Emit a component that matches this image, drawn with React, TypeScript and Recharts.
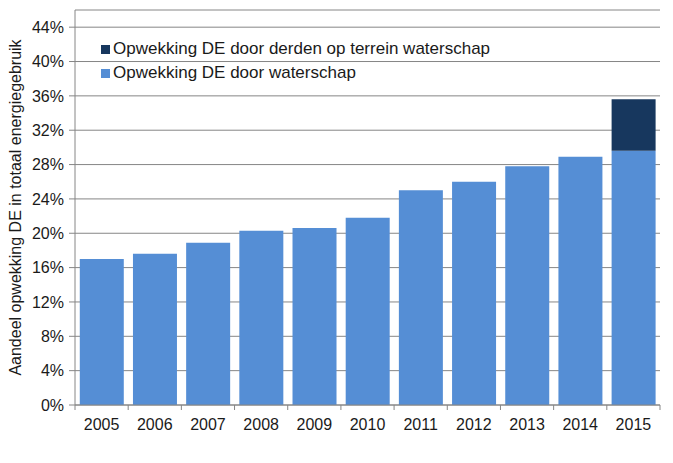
import { BarChart, Bar, XAxis, YAxis, CartesianGrid } from "recharts";

const years = ["2005", "2006", "2007", "2008", "2009", "2010", "2011", "2012", "2013", "2014", "2015"];
const eigen = [0.17, 0.176, 0.189, 0.203, 0.206, 0.218, 0.25, 0.26, 0.278, 0.289, 0.296];
const derden = [0, 0, 0, 0, 0, 0, 0, 0, 0, 0, 0.06];
const yTicks = [0, 0.04, 0.08, 0.12, 0.16, 0.2, 0.24, 0.28, 0.32, 0.36, 0.4, 0.44];

const LIGHT = "#558ED5";
const DARK = "#17375E";
const AXIS = "#868686";
const FONT = "'Liberation Sans', Arial, sans-serif";

const data = years.map((y, i) => ({ year: y, eigen: eigen[i], derden: derden[i] }));

const W = 673;
const H = 463;
const margin = { top: 10, right: 13, left: 0, bottom: 28 };
const yAxisWidth = 75;

const XTick = (props: any) => {
  const { x, y, payload, index } = props;
  const band = (W - margin.left - margin.right - yAxisWidth) / years.length;
  const half = band / 2;
  const ay = y - 8;
  return (
    <g>
      {index === 0 && <line x1={x - half} x2={x - half} y1={ay} y2={ay + 5} stroke={AXIS} />}
      <line x1={x + half} x2={x + half} y1={ay} y2={ay + 5} stroke={AXIS} />
      <text x={x} y={y + 17} textAnchor="middle" fontSize={16} fill="#1a1a1a" fontFamily={FONT}>
        {payload.value}
      </text>
    </g>
  );
};

// legend order as in the reference: top series first
const legendItems = [
  { label: "Opwekking DE door derden op terrein waterschap", color: DARK },
  { label: "Opwekking DE door waterschap", color: LIGHT },
];

export default function App() {
  return (
    <div style={{ position: "absolute", left: 0, top: 0, width: W, height: H, background: "#fff" }}>
      <BarChart width={W} height={H} data={data} margin={margin} barCategoryGap="9%">
        <CartesianGrid vertical={false} stroke={AXIS} strokeWidth={1} />
        <XAxis
          dataKey="year"
          axisLine={{ stroke: AXIS }}
          tickLine={false}
          tick={<XTick />}
          height={30}
          interval={0}
        />
        <YAxis
          width={yAxisWidth}
          domain={[0, 0.46]}
          ticks={yTicks}
          allowDataOverflow
          axisLine={{ stroke: AXIS }}
          tickLine={{ stroke: AXIS }}
          tickSize={6}
          tickMargin={5}
          tickFormatter={(v: number) => `${Math.round(v * 100)}%`}
          tick={{ fontSize: 16, fill: "#1a1a1a", fontFamily: FONT }}
          label={{
            value: "Aandeel opwekking DE in totaal energiegebruik",
            angle: -90,
            position: "insideLeft",
            offset: 15,
            style: { textAnchor: "middle", fontSize: 16, fill: "#1a1a1a", fontFamily: FONT },
          }}
        />
        <Bar dataKey="eigen" stackId="a" fill={LIGHT} isAnimationActive={false} />
        <Bar dataKey="derden" stackId="a" fill={DARK} isAnimationActive={false} />
      </BarChart>
      <div style={{ position: "absolute", left: 101, top: 37, fontFamily: FONT, fontSize: 17, color: "#1a1a1a" }}>
        {legendItems.map((it) => (
          <div key={it.label} style={{ display: "flex", alignItems: "center", height: 24 }}>
            <span style={{ width: 9, height: 9, background: it.color, marginRight: 3, display: "inline-block" }} />
            <span>{it.label}</span>
          </div>
        ))}
      </div>
    </div>
  );
}
